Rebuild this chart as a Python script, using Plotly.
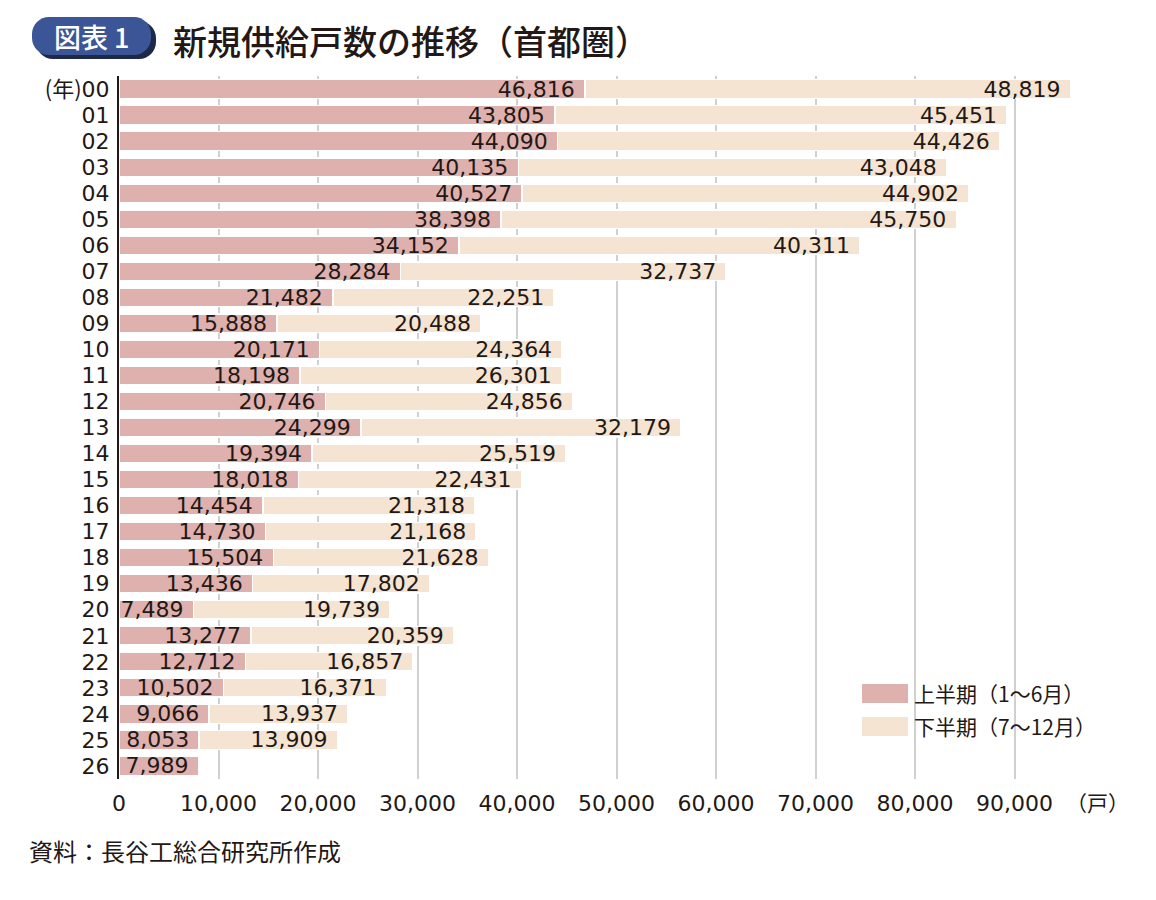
import plotly.graph_objects as go

# 新規供給戸数（首都圏） 上半期 / 下半期
years = ['00', '01', '02', '03', '04', '05', '06', '07', '08', '09', '10', '11', '12',
         '13', '14', '15', '16', '17', '18', '19', '20', '21', '22', '23', '24', '25', '26']
first_half = [46816, 43805, 44090, 40135, 40527, 38398, 34152, 28284, 21482, 15888,
              20171, 18198, 20746, 24299, 19394, 18018, 14454, 14730, 15504, 13436,
              7489, 13277, 12712, 10502, 9066, 8053, 7989]
second_half = [48819, 45451, 44426, 43048, 44902, 45750, 40311, 32737, 22251, 20488,
               24364, 26301, 24856, 32179, 25519, 22431, 21318, 21168, 21628, 17802,
               19739, 20359, 16857, 16371, 13937, 13909, None]
series_names = ['上半期（1〜6月）', '下半期（7〜12月）']
colors = ['#DFB1AE', '#F4E4D1']
x_ticks = list(range(0, 100001, 10000))

NUM_FONT = 'DejaVu Sans'
JP_FONT = 'Noto Sans CJK JP'
INK = '#231815'

# plot area in screenshot pixels: x 119..1114, y 76..779 (page has an 8px body margin)
L, R, T, B = 119, 1114, 76, 779
OFF = 8
def fx(px):
    return (px - L) / (R - L)
def fy(py):
    return (B - py) / (B - T)

fig = go.Figure()
for name, vals, col in zip(series_names, [first_half, second_half], colors):
    fig.add_trace(go.Bar(
        y=years, x=vals, name=name, orientation='h',
        marker=dict(color=col, line=dict(color='white', width=1.5)),
        width=0.72,
        texttemplate="%{x:,}<span style='color:rgba(0,0,0,0)'>.</span>",
        textposition='inside', insidetextanchor='end',
        textangle=0, constraintext='none',
        textfont=dict(family=NUM_FONT, size=22, color=INK),
        hoverinfo='skip', showlegend=False,
    ))

tick_text = ["<span style='font-family:%s;font-size:22px'>(年)</span>%s" % (JP_FONT, years[0])] + years[1:]

fig.update_layout(
    barmode='stack',
    width=1156, height=900,
    margin=dict(l=L - OFF, r=1156 - (R - OFF), t=T - OFF, b=900 - (B - OFF)),
    paper_bgcolor='white', plot_bgcolor='white',
    font=dict(family=NUM_FONT, color=INK),
    xaxis=dict(range=[0, 100000], tickvals=x_ticks,
               ticktext=['0' if v == 0 else f'{v:,}' for v in x_ticks[:-1]] + [''],
               showgrid=True, gridcolor='#D0D0D0', gridwidth=1.5, zeroline=False,
               showline=False, ticks='', ticklabelstandoff=9,
               tickfont=dict(family=NUM_FONT, size=22, color=INK)),
    yaxis=dict(type='category', autorange='reversed', tickvals=years, ticktext=tick_text,
               showgrid=False, showline=True, linecolor=INK, linewidth=2, ticks='',
               ticklabelstandoff=3,
               tickfont=dict(family=NUM_FONT, size=22, color=INK)),
)

shapes = []
# title badge (shadow + pill)
def pill(x0, y0, x1, y1, r):
    X0, X1 = fx(x0), fx(x1)
    Y0, Y1 = fy(y0), fy(y1)
    rx = r / (R - L)
    ry = r / (B - T)
    k = 0.55
    return (f'M{X0+rx},{Y0} L{X1-rx},{Y0} '
            f'C{X1-rx+k*rx},{Y0} {X1},{Y0-ry+k*ry} {X1},{Y0-ry} '
            f'L{X1},{Y1+ry} '
            f'C{X1},{Y1+ry-k*ry} {X1-rx+k*rx},{Y1} {X1-rx},{Y1} '
            f'L{X0+rx},{Y1} '
            f'C{X0+rx-k*rx},{Y1} {X0},{Y1+ry-k*ry} {X0},{Y1+ry} '
            f'L{X0},{Y0-ry} '
            f'C{X0},{Y0-ry+k*ry} {X0+rx-k*rx},{Y0} {X0+rx},{Y0} Z')

shapes.append(dict(type='path', xref='paper', yref='paper', path=pill(36, 21, 156, 59, 17),
                   fillcolor='#1E2847', line=dict(width=0), layer='above'))
shapes.append(dict(type='path', xref='paper', yref='paper', path=pill(32, 17, 151, 55, 17),
                   fillcolor='#3B5597', line=dict(width=0), layer='above'))

# legend swatches
for i, col in enumerate(colors):
    shapes.append(dict(type='rect', xref='paper', yref='paper',
                       x0=fx(862), x1=fx(908), y0=fy(684 + 33 * i), y1=fy(703 + 33 * i),
                       fillcolor=col, line=dict(width=0), layer='above'))
fig.update_layout(shapes=shapes)

annotations = [
    dict(text='図表 1', x=fx(91), y=fy(37), xanchor='center', yanchor='middle',
         font=dict(family=JP_FONT, size=27, color='white', weight=500)),
    dict(text='新規供給戸数の推移（首都圏）', x=fx(171), y=fy(41), xanchor='left', yanchor='middle',
         font=dict(family=JP_FONT, size=34, color=INK, weight=500)),
    dict(text='（戸）', x=fx(1097), y=fy(802), xanchor='center', yanchor='middle',
         font=dict(family=JP_FONT, size=21, color=INK)),
    dict(text='資料：長谷工総合研究所作成', x=fx(27), y=fy(850), xanchor='left', yanchor='middle',
         font=dict(family=JP_FONT, size=24, color=INK)),
]
for i, name in enumerate(series_names):
    annotations.append(dict(text=name, x=fx(912), y=fy(693 + 33 * i), xanchor='left', yanchor='middle',
                            font=dict(family=JP_FONT, size=21, color=INK)))
for a in annotations:
    a.update(xref='paper', yref='paper', showarrow=False)
fig.update_layout(annotations=annotations)

fig.write_html('out.html')
